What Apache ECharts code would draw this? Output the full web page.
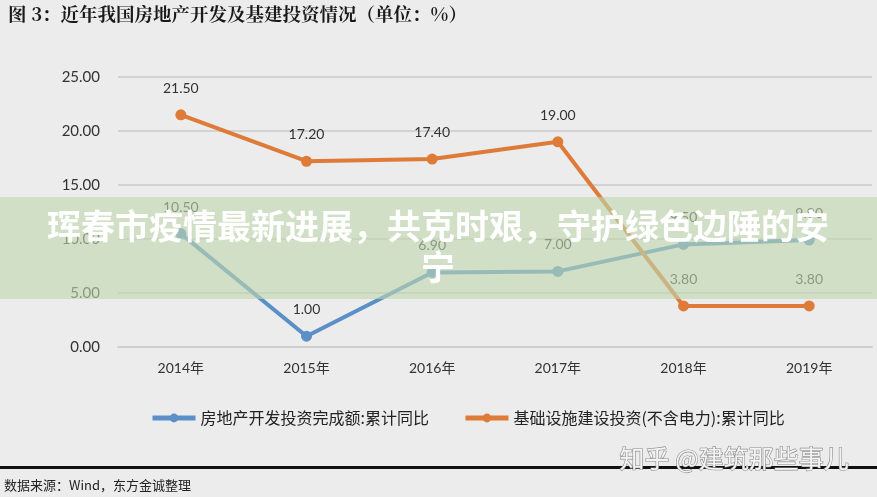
<!DOCTYPE html>
<html><head><meta charset="utf-8">
<script src="https://cdn.jsdelivr.net/npm/echarts@6/dist/echarts.min.js"></script>
<style>html,body{margin:0;padding:0;background:#ececec;}#c{width:877px;height:497px;}</style>
</head><body><div id="c"></div>
<script>
var categories = ['2014年','2015年','2016年','2017年','2018年','2019年'];
var realEstate = [10.5, 1.0, 6.9, 7.0, 9.5, 9.9];
var infra = [21.5, 17.2, 17.4, 19.0, 3.8, 3.8];
var seriesNames = ['房地产开发投资完成额:累计同比','基础设施建设投资(不含电力):累计同比'];
var yTicks = [0, 5, 10, 15, 20, 25];

var chart = echarts.init(document.getElementById('c'));
var lbl = {show:true, position:'top', distance:14, color:'#333', fontSize:14, fontFamily:'Lato, DejaVu Sans, sans-serif',
  formatter:function(p){return p.value.toFixed(2);}};
chart.setOption({
  backgroundColor:'#ececec',
  animation:false,
  title:{text:'图 3：近年我国房地产开发及基建投资情况（单位：%）', left:3, top:0,
    textStyle:{fontSize:18.5, fontWeight:'bold', color:'#1a1a1a', fontFamily:'Noto Serif CJK SC, Noto Sans CJK SC, serif'}},
  legend:{data:seriesNames, bottom:66, left:145, itemWidth:43, itemHeight:11, itemGap:34,
    lineStyle:{width:5},
    textStyle:{fontSize:16, color:'#222', fontFamily:'Noto Sans CJK SC, sans-serif'}},
  grid:{left:118, right:5, top:77, bottom:150},
  xAxis:{type:'category', data:categories, boundaryGap:true,
    axisLine:{lineStyle:{color:'#cfcfcf', width:2}}, axisTick:{show:false},
    axisLabel:{color:'#333', fontSize:14, margin:14, fontFamily:'Lato, Noto Sans CJK SC, sans-serif'}},
  yAxis:{type:'value', min:yTicks[0], max:yTicks[yTicks.length-1], interval:5,
    axisLine:{show:false}, axisTick:{show:false},
    splitLine:{lineStyle:{color:'#d2d2d2', width:2}},
    axisLabel:{color:'#333', fontSize:15, margin:18, fontFamily:'Lato, DejaVu Sans, sans-serif',
      formatter:function(v){return v.toFixed(2);}}},
  series:[
    {name:seriesNames[0], type:'line', data:realEstate, symbol:'circle', symbolSize:11,
      lineStyle:{width:4, color:'#5b8fc8'}, itemStyle:{color:'#5b8fc8'}, label:lbl},
    {name:seriesNames[1], type:'line', data:infra, symbol:'circle', symbolSize:11,
      lineStyle:{width:4, color:'#de7b38'}, itemStyle:{color:'#de7b38'}, label:lbl}
  ],
  graphic:[
    {type:'rect', left:0, top:197, z:100, shape:{width:877, height:102}, style:{fill:'rgba(190,215,175,0.62)'}},
    {type:'text', z:101, x:438, y:206, style:{text:'珲春市疫情最新进展，共克时艰，守护绿色边陲的安\n宁',
      fill:'#ffffff', font:'bold 34px "Noto Sans CJK SC", sans-serif', textAlign:'center', lineHeight:41}},
    {type:'rect', left:0, top:466, z:50, shape:{width:877, height:3}, style:{fill:'#111'}},
    {type:'text', z:51, left:4, top:479, style:{text:'数据来源：Wind，东方金诚整理', fill:'#222',
      font:'13px "Noto Sans CJK SC", monospace'}},
    {type:'text', z:52, left:619, top:445, style:{text:'知乎 @建筑那些事儿', fill:'#f4f4f4',
      stroke:'#8a8a8a', lineWidth:1.2, font:'25px "Noto Sans CJK SC", sans-serif'}}
  ]
});
</script></body></html>
